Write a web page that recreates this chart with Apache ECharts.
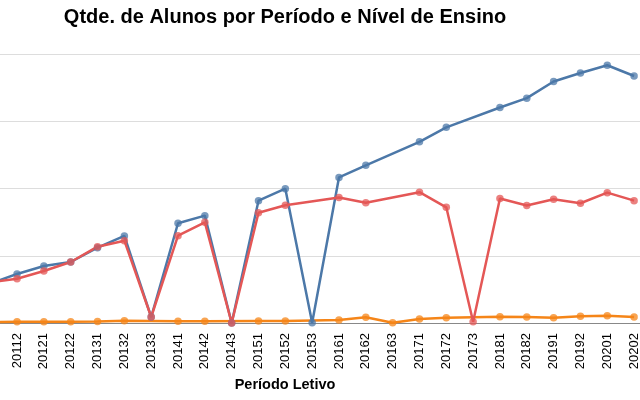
<!DOCTYPE html>
<html>
<head>
<meta charset="utf-8">
<script src="https://cdn.jsdelivr.net/npm/echarts@6/dist/echarts.min.js"></script>
<style>
  html, body { margin: 0; padding: 0; background: #fff; }
  #chart { width: 640px; height: 400px; }
</style>
</head>
<body>
<div id="chart"></div>
<script>
const categories = ['20111','20112','20121','20122','20131','20132','20133','20141','20142','20143','20151','20152','20153','20161','20162','20163','20171','20172','20173','20181','20182','20191','20192','20201','20202'];
const serieBlue = [587, 729, 848, 907, 1120, 1294, 89, 1483, 1596, 0, 1819, 1997, 5, 2164, 2345, null, 2694, 2910, null, 3204, 3343, 3591, 3717, 3833, 3673];
const serieRed = [605, 659, 773, 907, 1135, 1224, 89, 1298, 1497, 0, 1640, 1750, null, 1866, 1789, null, 1945, 1720, 19, 1851, 1747, 1841, 1781, 1938, 1819];
const serieOrange = [15, 19, 19, 19, 22, 34, null, 25, 25, null, 30, 30, null, 45, 85, 5, 60, 79, null, 94, 91, 77, 101, 106, 89];
const yTicks = [0, 1000, 2000, 3000, 4000];

const chart = echarts.init(document.getElementById('chart'), null, { renderer: 'canvas' });

function lineSeries(name, data, color) {
  return {
    name: name,
    type: 'line',
    data: data,
    connectNulls: true,
    symbol: 'circle',
    symbolSize: 7.5,
    showSymbol: true,
    lineStyle: { color: color, width: 2.5 },
    itemStyle: { color: color, opacity: 0.75 },
    emphasis: { disabled: true },
    animation: false
  };
}

chart.setOption({
  animation: false,
  title: [
    {
      text: 'Qtde. de Alunos por Período e Nível de Ensino',
      left: 280, top: 2, textAlign: 'center',
      textStyle: { fontFamily: 'Liberation Sans', fontWeight: 'bold', fontSize: 20, color: '#000' }
    },
    {
      text: 'Período Letivo',
      left: 280, top: 372, textAlign: 'center',
      textStyle: { fontFamily: 'Liberation Sans', fontWeight: 'bold', fontSize: 14.5, color: '#000' }
    }
  ],
  grid: {
    left: -23.2, right: -7.5, top: 54, bottom: 77,
    containLabel: false,
    outerBoundsMode: 'none'
  },
  xAxis: {
    type: 'category',
    data: categories,
    boundaryGap: true,
    axisLine: { lineStyle: { color: '#888', width: 1 } },
    axisTick: { alignWithLabel: true, length: 5, lineStyle: { color: '#888' } },
    axisLabel: {
      rotate: 90, margin: 10, interval: 0,
      fontFamily: 'Liberation Sans', fontSize: 13, color: '#000'
    },
    splitLine: { show: false }
  },
  yAxis: {
    type: 'value',
    min: yTicks[0], max: yTicks[yTicks.length - 1], interval: 1000,
    axisLabel: { show: false },
    axisLine: { show: false },
    axisTick: { show: false },
    splitLine: { lineStyle: { color: '#ddd', width: 1 } }
  },
  series: [
    lineSeries('Orange', serieOrange, '#f58518'),
    lineSeries('Blue', serieBlue, '#4c78a8'),
    lineSeries('Red', serieRed, '#e45756')
  ]
});
</script>
</body>
</html>
